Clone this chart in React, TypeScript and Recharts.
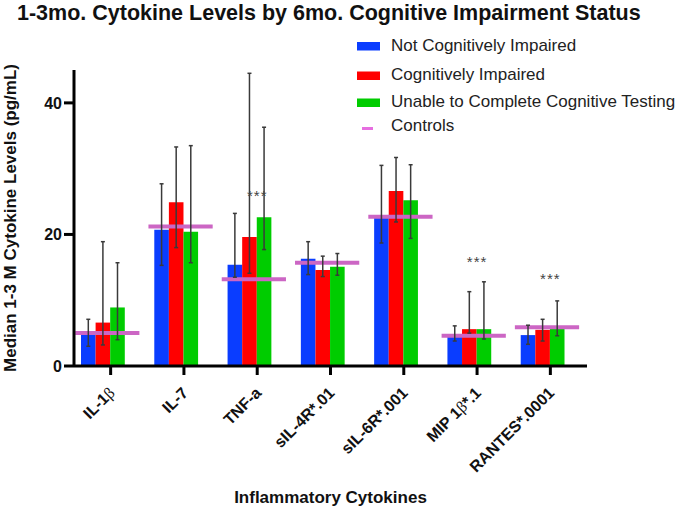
import React, { Fragment } from 'react'
import { ComposedChart, Bar, Line, XAxis, YAxis, ErrorBar } from 'recharts'

const FONT = '"Liberation Sans", Arial, sans-serif'
const BLUE = '#0a3dff'
const RED = '#ff0000'
const GREEN = '#00cc00'
const PINK = '#cc66c4'
const INK = '#111'

const TITLE = '1-3mo. Cytokine Levels by 6mo. Cognitive Impairment Status'

const categories = ['IL-1β', 'IL-7', 'TNF-a', 'sIL-4R*.01', 'sIL-6R*.001', 'MIP 1β*.1', 'RANTES*.0001']

// medians + lower/upper ends of the error bars (pg/mL)
const notImpaired = [4.8, 20.7, 15.4, 16.3, 22.5, 4.5, 4.7]
const notImpairedLow = [3.0, 15.3, 13.5, 13.9, 18.7, 3.8, 3.3]
const notImpairedHigh = [7.1, 27.7, 23.2, 18.9, 30.5, 6.1, 6.2]

const impaired = [6.6, 24.9, 19.6, 14.6, 26.6, 5.6, 5.5]
const impairedLow = [3.2, 18.0, 14.1, 13.6, 21.9, 5.0, 3.8]
const impairedHigh = [18.9, 33.3, 44.5, 16.7, 31.7, 11.3, 7.1]

const unable = [8.9, 20.4, 22.6, 15.1, 25.2, 5.6, 5.7]
const unableLow = [4.0, 15.7, 17.7, 13.8, 19.4, 4.1, 4.6]
const unableHigh = [15.7, 33.5, 36.3, 17.1, 30.6, 12.8, 9.9]

const controls = [5.0, 21.2, 13.2, 15.7, 22.7, 4.6, 5.9]

const significance = ['', '', '***', '', '', '***', '***']
const sigHeight = [null, null, 26.3, null, null, 16.2, 13.7]

const yTicks = [0, 20, 40]

const rows = categories.map((name, i) => ({
  name,
  notImpaired: notImpaired[i],
  niErr: [notImpaired[i] - notImpairedLow[i], notImpairedHigh[i] - notImpaired[i]],
  impaired: impaired[i],
  imErr: [impaired[i] - impairedLow[i], impairedHigh[i] - impaired[i]],
  unable: unable[i],
  unErr: [unable[i] - unableLow[i], unableHigh[i] - unable[i]],
  controls: controls[i],
  sig: sigHeight[i],
  sigText: significance[i],
}))

const legendItems = [
  { name: 'Not Cognitively Impaired', color: BLUE, dash: false },
  { name: 'Cognitively Impaired', color: RED, dash: false },
  { name: 'Unable to Complete Cognitive Testing', color: GREEN, dash: false },
  { name: 'Controls', color: '#e66ee0', dash: true },
]
const legendBaselines = [50.5, 80, 107, 130.5]

// eslint-disable-next-line @typescript-eslint/no-explicit-any
function CytokineTick(props: any) {
  const { x, y, payload } = props
  const parts = String(payload.value).split('β')
  return (
    <text
      transform={`translate(${x + 5},${y + 17}) rotate(-45)`}
      textAnchor="end"
      fontFamily={FONT}
      fontSize={16}
      fontWeight="bold"
      fill={INK}
    >
      {parts.map((p, i) => (
        <Fragment key={i}>
          {i > 0 && (
            <tspan fontWeight="normal" fontFamily='"Liberation Serif", serif'>
              β
            </tspan>
          )}
          <tspan>{p}</tspan>
        </Fragment>
      ))}
    </text>
  )
}

// 4th bar slot is used only to place the controls dash across the group
// eslint-disable-next-line @typescript-eslint/no-explicit-any
function ControlsDash(props: any) {
  const { x, y, width } = props
  if (y == null || x == null) return <g />
  return <line x1={x - width * 3.4} x2={x + width} y1={y} y2={y} stroke={PINK} strokeWidth={4} />
}

// eslint-disable-next-line @typescript-eslint/no-explicit-any
function Stars(props: any) {
  const { cx, cy, payload, index } = props
  if (cy == null || !payload?.sigText) return <g key={`s${index}`} />
  return (
    <text
      key={`s${index}`}
      x={cx}
      y={cy + 8}
      textAnchor="middle"
      fontFamily={FONT}
      fontSize={15}
      letterSpacing={1}
      fill="#444"
    >
      {payload.sigText}
    </text>
  )
}

const errStyle = { stroke: '#3a3a3a', strokeWidth: 1.5 }

export default function App() {
  return (
    <div
      style={{
        position: 'absolute',
        left: 0,
        top: 0,
        width: 688,
        height: 510,
        background: '#fff',
        fontFamily: FONT,
      }}
    >
      <ComposedChart
        width={688}
        height={510}
        data={rows}
        margin={{ top: 70, right: 101, bottom: 4, left: 0 }}
        barGap={0}
        barSize={14.6}
      >
        <XAxis
          dataKey="name"
          height={140}
          interval={0}
          tick={<CytokineTick />}
          tickSize={9}
          tickMargin={2}
          axisLine={{ stroke: '#000', strokeWidth: 3 }}
          tickLine={{ stroke: '#000', strokeWidth: 3 }}
          label={{
            value: 'Inflammatory Cytokines',
            position: 'insideBottom',
            offset: 3,
            style: { fontFamily: FONT, fontSize: 17, fontWeight: 'bold', fill: INK },
          }}
        />
        <YAxis
          width={74}
          domain={[0, 45]}
          ticks={yTicks}
          tickSize={10}
          tickMargin={2}
          tick={{ fontFamily: FONT, fontSize: 16, fontWeight: 'bold', fill: INK }}
          axisLine={{ stroke: '#000', strokeWidth: 3 }}
          tickLine={{ stroke: '#000', strokeWidth: 3 }}
          label={{
            value: 'Median 1-3 M Cytokine Levels (pg/mL)',
            angle: -90,
            position: 'insideLeft',
            offset: 10,
            style: { textAnchor: 'middle', fontFamily: FONT, fontSize: 17, fontWeight: 'bold', fill: INK },
          }}
        />
        <Bar dataKey="notImpaired" fill={BLUE} isAnimationActive={false}>
          <ErrorBar dataKey="niErr" width={2} direction="y" {...errStyle} />
        </Bar>
        <Bar dataKey="impaired" fill={RED} isAnimationActive={false}>
          <ErrorBar dataKey="imErr" width={2} direction="y" {...errStyle} />
        </Bar>
        <Bar dataKey="unable" fill={GREEN} isAnimationActive={false}>
          <ErrorBar dataKey="unErr" width={2} direction="y" {...errStyle} />
        </Bar>
        <Bar dataKey="controls" shape={<ControlsDash />} isAnimationActive={false} />
        <Line
          dataKey="sig"
          stroke="none"
          dot={(p: any) => <Stars {...p} />}
          activeDot={false}
          isAnimationActive={false}
        />
      </ComposedChart>

      <div
        style={{
          position: 'absolute',
          left: 17,
          top: 2,
          fontSize: 21.5,
          lineHeight: '22px',
          fontWeight: 'bold',
          color: INK,
          whiteSpace: 'nowrap',
        }}
      >
        {TITLE}
      </div>

      <svg
        width={688}
        height={150}
        style={{ position: 'absolute', left: 0, top: 0, pointerEvents: 'none' }}
      >
        {legendItems.map((item, i) => {
          const base = legendBaselines[i]
          return (
            <g key={item.name}>
              {item.dash ? (
                <line x1={362} x2={373} y1={base - 2} y2={base - 2} stroke={item.color} strokeWidth={3} />
              ) : (
                <rect x={357} y={base - 8.5} width={23} height={8.5} fill={item.color} />
              )}
              <text x={391} y={base} fontFamily={FONT} fontSize={17} fill="#222">
                {item.name}
              </text>
            </g>
          )
        })}
      </svg>
    </div>
  )
}
